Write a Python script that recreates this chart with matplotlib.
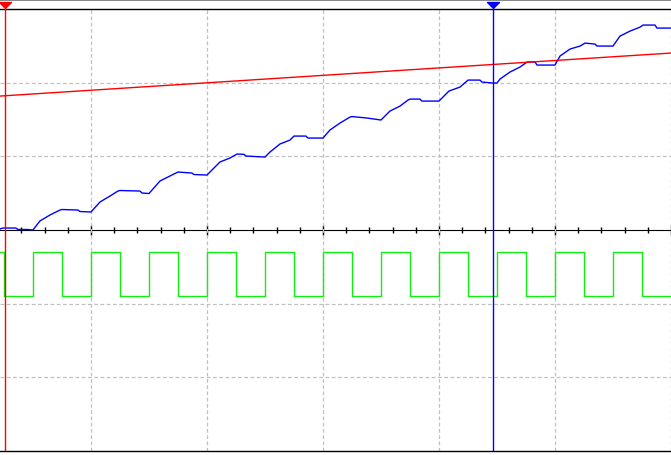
import matplotlib
matplotlib.use("Agg")
import matplotlib.pyplot as plt
from matplotlib.patches import Rectangle
from matplotlib.path import Path
from matplotlib.ticker import MultipleLocator, NullFormatter

# ---------------- data (divisions) ----------------
blue_t = [-2.784, -2.759, -2.647, -2.629, -2.552, -2.5, -2.440, -2.353, -2.267, -2.25,
          -2.112, -2.095, -2.0, -1.922, -1.836, -1.767, -1.75, -1.578, -1.560, -1.5,
          -1.405, -1.319, -1.25, -1.129, -1.112, -1.0, -0.888, -0.802, -0.741, -0.681,
          -0.664, -0.5, -0.457, -0.371, -0.284, -0.25, -0.147, -0.129, 0.0, 0.060,
          0.147, 0.233, 0.25, 0.379, 0.5, 0.578, 0.664, 0.733, 0.75, 0.836,
          0.853, 1.0, 1.086, 1.181, 1.241, 1.25, 1.353, 1.371, 1.466, 1.5,
          1.526, 1.612, 1.698, 1.759, 1.828, 1.845, 2.0, 2.043, 2.129, 2.216,
          2.259, 2.345, 2.362, 2.5, 2.560, 2.647, 2.733, 2.759, 2.862, 2.879, 3.0]
blue_v = [0.014, 0.027, 0.027, 0.007, 0.007, 0.0, 0.122, 0.204, 0.271, 0.278,
          0.271, 0.251, 0.244, 0.380, 0.461, 0.529, 0.536, 0.529, 0.502, 0.495,
          0.665, 0.733, 0.787, 0.773, 0.753, 0.746, 0.923, 0.977, 1.031, 1.027,
          1.004, 0.990, 1.058, 1.167, 1.221, 1.275, 1.275, 1.248, 1.248, 1.357,
          1.452, 1.533, 1.540, 1.520, 1.493, 1.615, 1.682, 1.764, 1.777, 1.777,
          1.750, 1.750, 1.886, 1.940, 2.022, 2.035, 2.035, 2.008, 1.995, 1.995,
          2.049, 2.144, 2.212, 2.280, 2.280, 2.239, 2.239, 2.361, 2.456, 2.497,
          2.537, 2.524, 2.497, 2.497, 2.632, 2.700, 2.754, 2.782, 2.782, 2.741, 2.741]

red_t = [-2.784, 3.0]
red_v = [1.818, 2.402]

green_t = [-2.784, -2.75, -2.5, -2.25, -2.0, -1.75, -1.5, -1.25, -1.0, -0.75, -0.5,
           -0.25, 0.0, 0.25, 0.5, 0.75, 1.0, 1.25, 1.5, 1.75, 2.0, 2.25, 2.5, 2.75, 3.0]
green_high = -0.30
green_low = -0.90
green_v = [green_high if i % 2 == 0 else green_low for i in range(len(green_t) - 1)] + [green_low]

cursor_red_x = -2.741
cursor_blue_x = 1.466

x_min, x_max = -2.784, 3.0
y_min, y_max = -3.0, 3.0

# ---------------- figure ----------------
W, H = 671, 456
fig = plt.figure(figsize=(W / 100, H / 100), dpi=100)
fig.patch.set_facecolor("white")
ax = fig.add_axes([0, 4 / H, 1, 442 / H])
ax.set_xlim(x_min, x_max)
ax.set_ylim(y_min, y_max)

for s in ("left", "right"):
    ax.spines[s].set_visible(False)
for s in ("top", "bottom"):
    ax.spines[s].set_color("black")
    ax.spines[s].set_linewidth(1.0)

ax.set_xticks([-2, -1, 0, 1, 2, 3])
ax.set_yticks([-2, -1, 1, 2])
ax.tick_params(length=0, labelbottom=False, labelleft=False)
ax.grid(True, color="#c0c0c0", linestyle=(0, (3, 2)), linewidth=0.9)
ax.set_axisbelow(True)

# centre axis with ticks
sec = ax.secondary_xaxis(0.5)
sec.set_xticks([-2, -1, 0, 1, 2, 3])
sec.xaxis.set_major_formatter(NullFormatter())
sec.xaxis.set_minor_locator(MultipleLocator(0.2))
sec.xaxis.set_minor_formatter(NullFormatter())
sec.tick_params(which="major", direction="inout", length=6.5, width=1.0, color="black")
sec.tick_params(which="minor", direction="inout", length=4.3, width=1.0, color="black")
sec.spines["bottom"].set_color("black")
sec.spines["bottom"].set_linewidth(1.0)

# traces
ax.plot(green_t, green_v, drawstyle="steps-post", color="#11ee11", lw=1.0, zorder=3)
ax.plot(blue_t, blue_v, color="#0000ff", lw=1.0, zorder=4)
ax.plot(red_t, red_v, color="#ff0000", lw=1.0, zorder=4)

# cursors
ax.axvline(cursor_blue_x, color="#0000ff", lw=1.0, zorder=5)
ax.axvline(cursor_red_x, color="#ff0000", lw=1.0, zorder=5)

tri = Path([(-1, 0.5), (1, 0.5), (0, -0.5), (-1, 0.5)],
           [Path.MOVETO, Path.LINETO, Path.LINETO, Path.CLOSEPOLY])
trans = ax.get_xaxis_transform()
ax.plot([cursor_red_x], [1 + 4 / 442], marker=tri, ms=8.6, color="#ff0000",
        transform=trans, clip_on=False, zorder=6, linestyle="none")
ax.plot([cursor_blue_x], [1 + 4 / 442], marker=tri, ms=8.6, color="#0000ff",
        transform=trans, clip_on=False, zorder=6, linestyle="none")

# top gray bar
fig.add_artist(Rectangle((0, 1 - 2 / H), 1, 2 / H, transform=fig.transFigure,
                         facecolor="#8a8a8a", edgecolor="none"))

fig.savefig("out.png", dpi=100)
